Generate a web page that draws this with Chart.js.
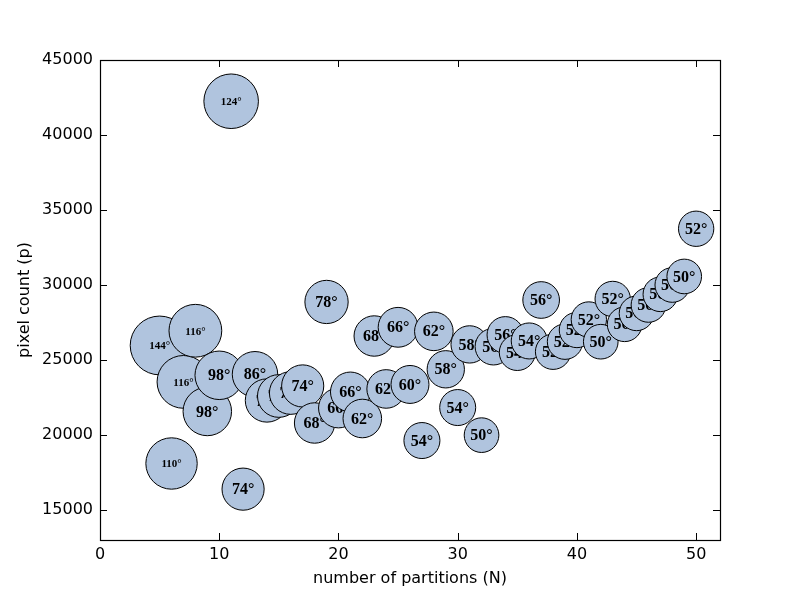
<!DOCTYPE html>
<html>
<head>
<meta charset="utf-8">
<script src="https://cdn.jsdelivr.net/npm/chart.js@4"></script>
<style>
  body { margin: 0; background: #fff; }
  #wrap { width: 800px; height: 600px; }
</style>
</head>
<body>
<div id="wrap"><canvas id="bubbleChart" width="800" height="600"></canvas></div>
<script>
// number of partitions (N)
const partitions = [5, 6, 7, 8, 9, 10, 11, 12, 13, 14, 15, 16, 17, 18, 19, 20, 21, 22, 23, 24, 25, 26, 27,
  28, 29, 30, 31, 32, 33, 34, 35, 36, 37, 38, 39, 40, 41, 42, 43, 44, 45, 46, 47, 48, 49, 50];

// pixel count (p)
const pixelCounts = [25970, 18100, 23540, 26950, 21570, 23980, 42250, 16390, 24050, 22300, 22600, 22800,
  23270, 20800, 28870, 21800, 22870, 21100, 26600, 23070, 27180, 23370, 19630, 26910, 24380, 21830,
  26040, 19990, 25890, 26670, 25500, 26270, 29000, 25550, 26220, 27000, 27700, 26220, 29070, 27380,
  28110, 28670, 29380, 30000, 30570, 33750];

// angle shown inside each bubble (degrees)
const angles = [144, 110, 116, 116, 98, 98, 124, 74, 86, 78, 76, 76, 74, 68, 78, 66, 66, 62, 68, 62, 66, 60,
  54, 62, 58, 54, 58, 50, 56, 56, 54, 54, 56, 52, 52, 52, 52, 50, 52, 50, 50, 50, 50, 50, 50, 52];

const xTickValues = [0, 10, 20, 30, 40, 50];
const yTickValues = [15000, 20000, 25000, 30000, 35000, 40000, 45000];

const tickFont = { family: "DejaVu Sans", size: 16 };

document.addEventListener("DOMContentLoaded", function () {
  const ctx = document.getElementById("bubbleChart").getContext("2d");

  // One dataset per bubble so each label is drawn right after its own circle
  const datasets = partitions.map((n, i) => ({
    data: [{ x: n, y: pixelCounts[i], r: 2.45 * Math.sqrt(angles[i]) }],
    angle: angles[i],
    order: partitions.length - i,
    backgroundColor: "#b0c4de",
    borderColor: "#000",
    borderWidth: 1,
    hoverRadius: 0,
    hoverBorderWidth: 1,
  }));

  // Draw the degree label on top of each bubble
  const bubbleLabels = {
    id: "bubbleLabels",
    afterDatasetDraw(chart, args) {
      const ds = chart.data.datasets[args.index];
      const pt = args.meta.data[0];
      if (!pt) return;
      const text = ds.angle + "°";
      const size = ds.angle >= 100 ? 11 : 16;
      const c = chart.ctx;
      c.save();
      c.font = "bold " + size + "px 'Liberation Serif'";
      c.fillStyle = "#000";
      c.textAlign = "center";
      c.textBaseline = "middle";
      c.fillText(text, pt.x, pt.y + 1);
      c.restore();
    }
  };

  // Axes frame with inward tick marks on all four sides
  const frameTicks = {
    id: "frameTicks",
    afterDraw(chart) {
      const { left, right, top, bottom } = chart.chartArea;
      const c = chart.ctx;
      const len = 7;
      c.save();
      c.strokeStyle = "#000";
      c.lineWidth = 1;
      c.beginPath();
      chart.scales.x.ticks.forEach(t => {
        const px = Math.round(chart.scales.x.getPixelForValue(t.value)) + 0.5;
        c.moveTo(px, bottom); c.lineTo(px, bottom - len);
        c.moveTo(px, top); c.lineTo(px, top + len);
      });
      chart.scales.y.ticks.forEach(t => {
        const py = Math.round(chart.scales.y.getPixelForValue(t.value)) + 0.5;
        c.moveTo(left, py); c.lineTo(left + len, py);
        c.moveTo(right, py); c.lineTo(right - len, py);
      });
      c.stroke();
      c.lineWidth = 1.2;
      c.strokeRect(left + 0.5, top + 0.5, right - left, bottom - top);
      c.restore();
    }
  };

  new Chart(ctx, {
    type: "bubble",
    data: { datasets: datasets },
    plugins: [bubbleLabels, frameTicks],
    options: {
      responsive: false,
      devicePixelRatio: 1,
      animation: false,
      layout: { padding: { top: 60, right: 80, left: 0, bottom: 0 } },
      plugins: {
        legend: { display: false },
        tooltip: { enabled: false },
      },
      scales: {
        x: {
          type: "linear",
          min: 0,
          max: 52,
          grid: { display: false, drawTicks: false },
          border: { display: false },
          afterBuildTicks: scale => { scale.ticks = xTickValues.map(v => ({ value: v })); },
          afterFit: scale => { scale.height = 60; },
          ticks: { font: tickFont, color: "#000", padding: 5, maxRotation: 0 },
          title: {
            display: true,
            text: "number of partitions (N)",
            font: tickFont,
            color: "#000",
            padding: { top: 0, bottom: 12 },
          },
        },
        y: {
          type: "linear",
          min: 13000,
          max: 45000,
          grid: { display: false, drawTicks: false },
          border: { display: false },
          afterBuildTicks: scale => { scale.ticks = yTickValues.map(v => ({ value: v })); },
          afterFit: scale => { scale.width = 100; },
          ticks: { font: tickFont, color: "#000", padding: 7, callback: v => String(v) },
          title: {
            display: true,
            text: "pixel count (p)",
            font: tickFont,
            color: "#000",
            padding: { top: 15, bottom: 0 },
          },
        },
      },
    },
  });
});
</script>
</body>
</html>
